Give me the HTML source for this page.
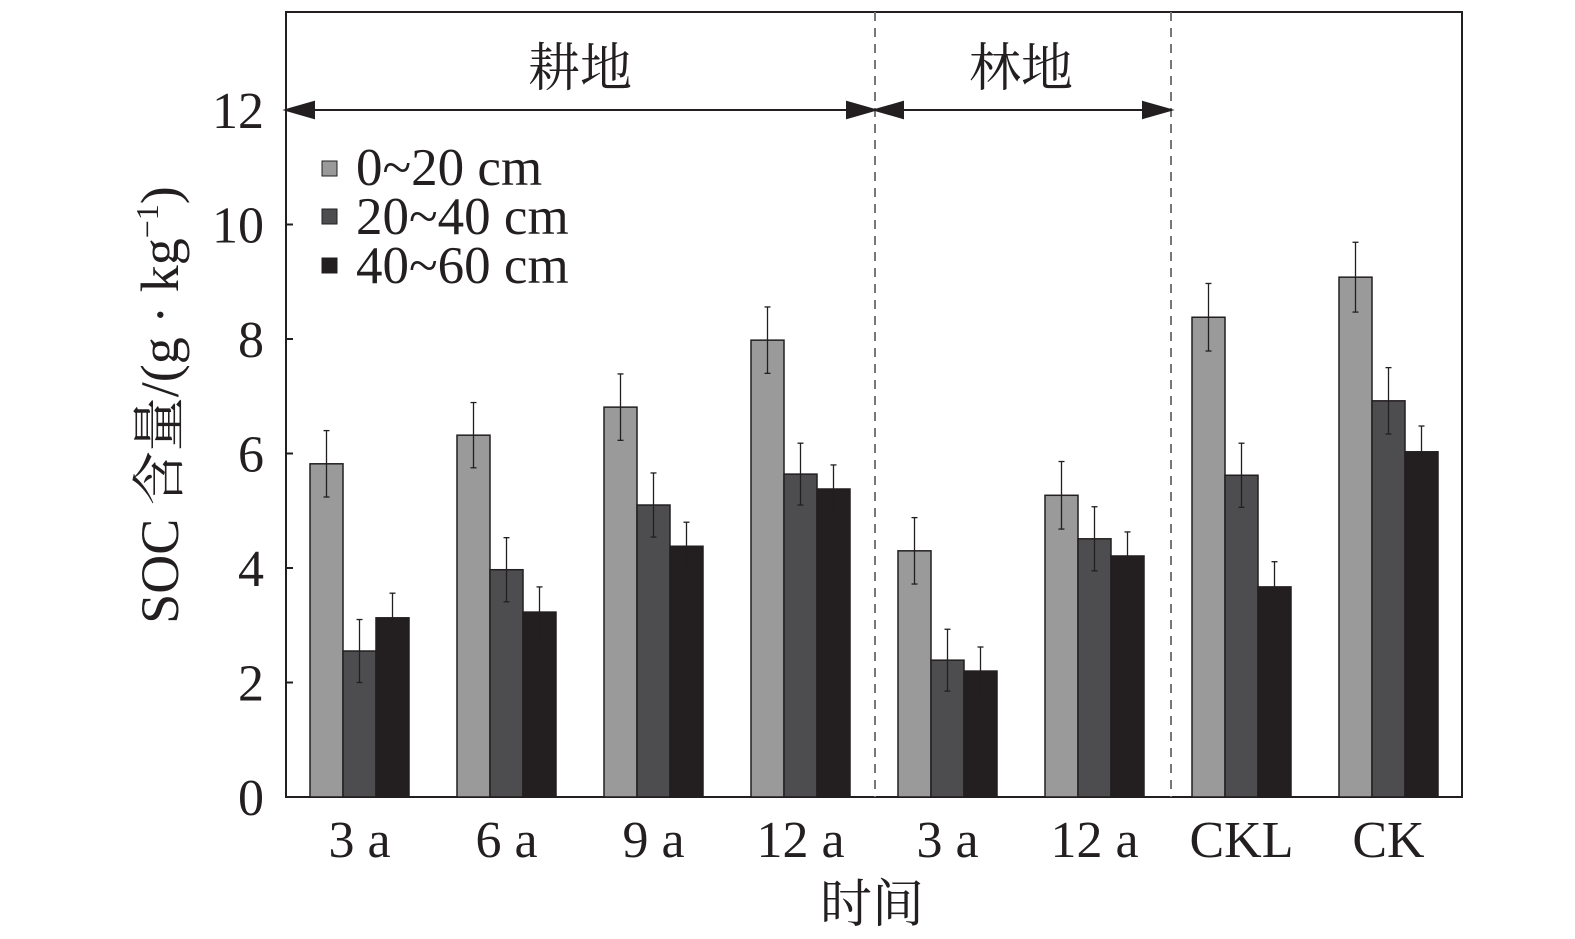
<!DOCTYPE html>
<html><head><meta charset="utf-8"><style>
body{margin:0;background:#fff;}
svg{display:block;font-family:"Liberation Serif","Noto Serif CJK SC",serif;}
</style></head><body>
<svg id="chart" width="1575" height="939" viewBox="0 0 1575 939" xmlns="http://www.w3.org/2000/svg">
<rect x="286" y="12" width="1176" height="785" fill="#fff" stroke="#231f20" stroke-width="2"/>
<g id="bars"></g>
<g id="axes"></g>
<line x1="875" y1="12" x2="875" y2="797" stroke="#777" stroke-width="2" stroke-dasharray="9,7"/>
<line x1="1171" y1="12" x2="1171" y2="797" stroke="#777" stroke-width="2" stroke-dasharray="9,7"/>
<g stroke="#231f20" stroke-width="2" fill="#231f20">
<line x1="300" y1="110" x2="861" y2="110"/>
<polygon points="286,110 314,102 314,118"/><polygon points="875,110 847,102 847,118"/>
</g>
<g stroke="#231f20" stroke-width="2" fill="#231f20">
<line x1="889" y1="110" x2="1157" y2="110"/>
<polygon points="875,110 903,102 903,118"/><polygon points="1171,110 1143,102 1143,118"/>
</g>
<text x="580" y="86" font-size="52" text-anchor="middle" fill="#231f20">耕地</text>
<text x="1021" y="86" font-size="52" text-anchor="middle" fill="#231f20">林地</text>
<g font-size="53" fill="#231f20">
<rect x="322" y="161" width="15" height="15" fill="#9a9a9a" stroke="#231f20"/>
<text x="356" y="185">0~20 cm</text>
<rect x="322" y="209" width="15" height="15" fill="#4d4d4f" stroke="#231f20"/>
<text x="356" y="234">20~40 cm</text>
<rect x="322" y="258" width="15" height="15" fill="#231f20" stroke="#231f20"/>
<text x="356" y="283">40~60 cm</text>
</g>
<text transform="translate(178,405) rotate(-90)" font-size="54" text-anchor="middle" fill="#231f20">SOC 含量/(g · kg<tspan font-size="32" dy="-20">−1</tspan><tspan dy="20">)</tspan></text>
<text x="872" y="922" font-size="52" text-anchor="middle" fill="#231f20">时间</text>
</svg>
<script>
const categories=["3 a","6 a","9 a","12 a","3 a","12 a","CKL","CK"];
const soc0_20=[5.82,6.32,6.81,7.98,4.30,5.27,8.38,9.08];
const soc20_40=[2.55,3.97,5.10,5.64,2.39,4.51,5.62,6.92];
const soc40_60=[3.13,3.23,4.38,5.38,2.20,4.21,3.67,6.03];
const err0_20=[0.58,0.57,0.58,0.58,0.58,0.59,0.59,0.61];
const err20_40=[0.55,0.56,0.56,0.54,0.54,0.56,0.56,0.58];
const err40_60=[0.43,0.44,0.42,0.42,0.42,0.42,0.44,0.45];
const yTicks=[0,2,4,6,8,10,12];
const NS="http://www.w3.org/2000/svg";
const x0=286,x1=1462,yb=797,pxPer=687/12;
const y=v=>yb-v*pxPer;
const gw=(x1-x0)/categories.length;
const gx=i=>x0+gw*(i+0.5);
function mk(tag,attrs,parent){const e=document.createElementNS(NS,tag);for(const k in attrs)e.setAttribute(k,attrs[k]);parent.appendChild(e);return e;}
const bars=document.getElementById('bars'),axes=document.getElementById('axes');
const series=[[soc0_20,err0_20,"#9a9a9a","0-20"],[soc20_40,err20_40,"#4d4d4f","20-40"],[soc40_60,err40_60,"#231f20","40-60"]];
const bw=33;
categories.forEach((c,i)=>{
 series.forEach((s,j)=>{
  const v=s[0][i],e=s[1][i];
  const bx=gx(i)+(j-1.5)*bw;
  const r=mk('rect',{x:bx,y:y(v),width:bw,height:yb-y(v),fill:s[2],stroke:"#231f20","stroke-width":1.5},bars);
  
  
  const cx=bx+bw/2;
  const g=mk('g',{stroke:"#231f20","stroke-width":1.3},bars);
  
  
  mk('line',{x1:cx,x2:cx,y1:y(v-e),y2:y(v+e)},g);
  mk('line',{x1:cx-3,x2:cx+3,y1:y(v+e),y2:y(v+e)},g);
  mk('line',{x1:cx-3,x2:cx+3,y1:y(v-e),y2:y(v-e)},g);
 });
 const t=mk('text',{x:gx(i),y:857,"font-size":52,"text-anchor":"middle",fill:"#231f20"},axes);
 t.textContent=c;
 
 
});
yTicks.forEach(v=>{
 const l=mk('line',{x1:x0,x2:x0+7,y1:y(v),y2:y(v),stroke:"#231f20","stroke-width":2},axes);
 
 
 const t=mk('text',{x:264,y:y(v)+18,"font-size":52,"text-anchor":"end",fill:"#231f20"},axes);
 t.textContent=v;
 
 
});
</script>
</body></html>
